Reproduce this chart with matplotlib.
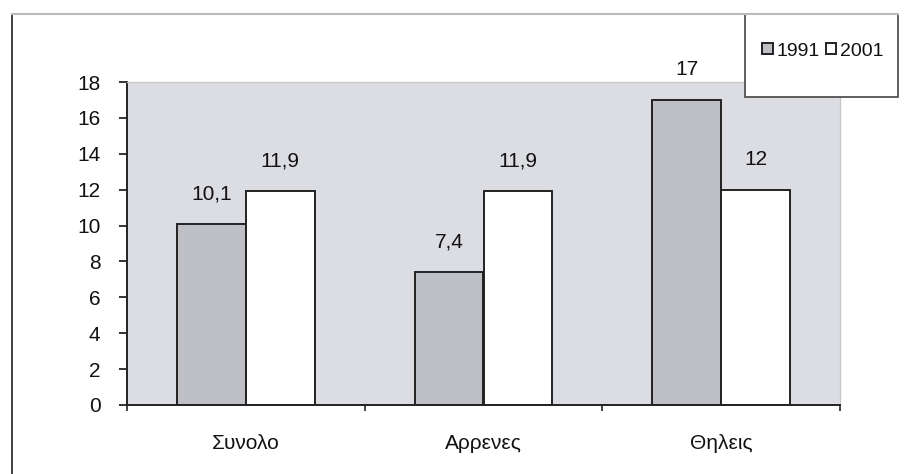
import matplotlib.pyplot as plt
import matplotlib.patches as mpatches
import numpy as np

categories = ['Συνολο', 'Αρρενες', 'Θηλεις']
vals_1991 = [10.1, 7.4, 17]
vals_2001 = [11.9, 11.9, 12]
labels_1991 = ['10,1', '7,4', '17']
labels_2001 = ['11,9', '11,9', '12']
series_names = ['1991', '2001']

plt.rcParams['font.family'] = ['Liberation Sans', 'DejaVu Sans']

W, H = 907, 474
fig = plt.figure(figsize=(W / 100, H / 100), dpi=100)
fig.patch.set_facecolor('white')

# outer frame lines (left and top)
fig.add_artist(plt.Line2D([12 / W, 12 / W], [0, 1 - 14 / H], color='#333333', lw=1.3))
fig.add_artist(plt.Line2D([12 / W, 898 / W], [1 - 14 / H, 1 - 14 / H], color='#bbbbbb', lw=1.5))

ax = fig.add_axes([127 / W, 1 - 405 / H, 713 / W, 323 / H])
ax.set_facecolor('#dcdde2')

x = np.arange(len(categories))
w = 0.29
b1 = ax.bar(x - w / 2, vals_1991, w, color='#bfc0c6', edgecolor='#222222', lw=1.4)
b2 = ax.bar(x + w / 2, vals_2001, w, color='white', edgecolor='#222222', lw=1.4)

for rect, lab in zip(b1, labels_1991):
    ax.text(rect.get_x() + rect.get_width() / 2, rect.get_height() + 1.15, lab,
            ha='center', va='bottom', fontsize=15, color='#111111')
for rect, lab in zip(b2, labels_2001):
    ax.text(rect.get_x() + rect.get_width() / 2, rect.get_height() + 1.15, lab,
            ha='center', va='bottom', fontsize=15, color='#111111')

ax.set_xlim(-0.5, len(categories) - 0.5)
ax.set_ylim(0, 18)
ax.set_yticks(np.arange(0, 19, 2))
ax.tick_params(axis='y', labelsize=15, colors='#111111', direction='out', length=6, width=1.2, pad=13)
ax.set_xticks(x)
ax.set_xticklabels(categories, fontsize=15)
ax.tick_params(axis='x', length=0, pad=21, colors='#111111')
# boundary ticks on x axis
ax.set_xticks(np.arange(-0.5, len(categories), 1), minor=True)
ax.tick_params(axis='x', which='minor', length=4, direction='out', width=1.2, color='#222222')

for s in ['top', 'right']:
    ax.spines[s].set_color('#c8c8cc')
    ax.spines[s].set_linewidth(1.0)
for s in ['left', 'bottom']:
    ax.spines[s].set_color('#222222')
    ax.spines[s].set_linewidth(1.4)

# legend box
fig.add_artist(mpatches.Rectangle((745 / W, 1 - 97 / H), 153 / W, 83 / H,
                                  transform=fig.transFigure, facecolor='white',
                                  edgecolor='#444444', lw=1.2))
h1 = mpatches.Patch(facecolor='#bfc0c6', edgecolor='#222222', lw=1.4)
h2 = mpatches.Patch(facecolor='white', edgecolor='#222222', lw=1.4)
leg = fig.legend([h1, h2], series_names, loc='center', bbox_to_anchor=(823 / W, 1 - 51 / H),
                 ncol=2, frameon=False, fontsize=14, handlelength=0.55, handleheight=0.55,
                 handletextpad=0.2, columnspacing=0.3, borderpad=0)
for t in leg.get_texts():
    t.set_color('#111111')

fig.savefig('out.png', dpi=100)
